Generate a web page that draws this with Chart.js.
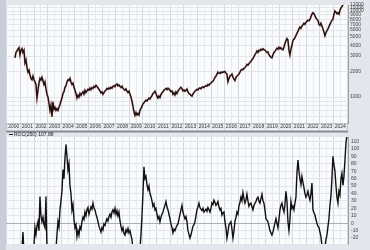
<!DOCTYPE html>
<html>
<head>
<meta charset="utf-8">
<script src="https://cdn.jsdelivr.net/npm/chart.js@4.4.1/dist/chart.umd.min.js"></script>
<style>
  html, body { margin: 0; padding: 0; background: #e3e6ed; }
  #wrap { position: relative; width: 370px; height: 250px; overflow: hidden; }
  canvas { position: absolute; left: 0; }
  #price { top: 0; }
  #roc { top: 131px; }
</style>
</head>
<body>
<div id="wrap">
  <canvas id="price" width="370" height="131"></canvas>
  <canvas id="roc" width="370" height="119"></canvas>
</div>
<script>
// sample dates: one sample about every 27 days, from mid 2000 to end of 2024
const firstDate = 2000.59;
const dateStep = 0.0735;

const priceValues = [
  2860, 3300, 3450, 3600, 3750, 3100, 3500, 3650, 3300, 3500,
  2500, 2700, 2200, 1950, 2050, 1800, 1650, 1590, 1750, 1600,
  1500, 1400, 980, 1200, 1450, 1650, 1580, 1700, 1550, 1400,
  1500, 1250, 1080, 1000, 850, 700, 800, 590, 880, 720,
  760, 700, 735, 700, 760, 820, 900, 975, 1100, 1150,
  1300, 1350, 1500, 1590, 1560, 1650, 1500, 1400, 1450, 1300,
  1200, 1100, 975, 1050, 1000, 1100, 1050, 1110, 1150, 1080,
  1200, 1130, 1180, 1230, 1200, 1270, 1220, 1290, 1260, 1330,
  1300, 1370, 1330, 1280, 1230, 1180, 1120, 1150, 1080, 1130,
  1170, 1210, 1260, 1230, 1280, 1250, 1300, 1270, 1330, 1360,
  1320, 1390, 1420, 1350, 1380, 1330, 1290, 1340, 1270, 1230,
  1200, 1240, 1170, 1130, 1170, 1080, 1000, 900, 780, 680,
  614, 660, 620, 646, 620, 700, 740, 780, 835, 860,
  890, 920, 900, 940, 970, 950, 1000, 1040, 1100, 1130,
  1170, 1100, 1020, 975, 1030, 990, 1070, 1120, 1160, 1200,
  1230, 1260, 1220, 1270, 1240, 1200, 1160, 1180, 1080, 1120,
  1060, 1150, 1100, 1170, 1220, 1260, 1300, 1250, 1180, 1210,
  1170, 1200, 1240, 1150, 1100, 1080, 1050, 1025, 1090, 1130,
  1170, 1200, 1230, 1210, 1260, 1280, 1250, 1300, 1320, 1290,
  1330, 1360, 1340, 1400, 1370, 1430, 1450, 1500, 1530, 1600,
  1700, 1750, 1850, 1950, 1900, 1880, 1950, 1920, 1970, 1940,
  1980, 1900, 1850, 1510, 1650, 1750, 1800, 1850, 1700, 1620,
  1560, 1700, 1750, 1800, 1850, 1950, 2050, 2100, 2080, 2150,
  2200, 2280, 2390, 2350, 2450, 2520, 2600, 2720, 2800, 2950,
  3100, 3250, 3430, 3300, 3500, 3450, 3600, 3520, 3650, 3550,
  3520, 3400, 3300, 3350, 3100, 3000, 2900, 2860, 3100, 3300,
  3400, 3550, 3700, 3600, 3800, 3650, 3750, 3600, 3550, 3800,
  4200, 4500, 4780, 4600, 3500, 3090, 3600, 4000, 4550, 4700,
  4900, 5200, 5500, 5800, 6200, 6500, 6300, 6700, 6900, 7200,
  7000, 7400, 7600, 7800, 7700, 8000, 8600, 9200, 9560, 9300,
  8800, 8300, 8000, 7800, 7000, 6800, 7200, 6680, 6200, 5700,
  5170, 5600, 5900, 6190, 6600, 7000, 7400, 7800, 8000, 9200,
  10000, 9700, 9300, 9560, 9200, 10200, 10800, 11300, 11750, 12300,
  12600, 13200, 13500
];

const rocValues = [
  -40, -40, -40, -40, -40, -40, -40, -35, -12, -40,
  -40, -40, -40, -40, -40, -40, -40, -40, -40, -30,
  -6, -15, -4, 2, -10, 36, 10, 2, 8, -2,
  -6, 36, -35, -40, -40, -40, -40, -40, -40, -40,
  -40, -35, -15, 2, -5, 18, 30, 43, 72, 60,
  88, 106, 90, 72, 80, 51, 40, 18, 25, 5,
  -6, -2, -18, -10, -16, -5, -8, 2, 8, 5,
  15, 10, 18, 21, 12, 17, 22, 19, 27, 20,
  18, 12, 8, 2, -4, -8, -12, -6, -9, -1,
  -3, 2, 6, 3, 9, 12, 8, 15, 18, 14,
  20, 12, 17, 10, 15, 3, -4, -10, -6, -14,
  -16, -9, -12, -7, -13, -10, -16, -22, -35, -40,
  -40, -40, -40, -40, -40, -35, -15, 10, 40, 76,
  60, 63, 52, 45, 50, 40, 36, 30, 23, 26,
  18, 20, 12, 6, 9, 2, 8, 12, 15, 20,
  24, 29, 22, 18, 12, 6, -1, -6, -13, -8,
  -10, -6, -3, -1, 5, 12, 18, 24, 15, 10,
  6, 9, 2, -10, -15, -20, -16, -10, -4, -2,
  2, 10, 18, 22, 27, 21, 19, 17, 20, 15,
  17, 19, 16, 21, 18, 15, 20, 27, 25, 31,
  28, 24, 26, 29, 22, 18, 20, 11, 14, 15,
  2, -6, -20, -12, -2, 0, 2, -8, -20, -10,
  2, 8, 15, 12, 23, 28, 35, 30, 41, 33,
  27, 31, 39, 30, 23, 26, 27, 22, 18, 24,
  27, 29, 33, 35, 30, 27, 33, 39, 30, 27,
  18, 6, 4, 2, -4, -10, -13, -16, -12, -6,
  0, 6, 0, -6, 5, 18, 24, 27, 20, 15,
  25, 43, 30, 2, -10, 5, 29, 20, 23, 18,
  27, 35, 67, 85, 70, 60, 52, 63, 55, 48,
  40, 35, 38, 43, 36, 31, 40, 54, 18, 14,
  11, 5, 0, -4, -6, -12, -18, -30, -40, -40,
  -32, -22, -16, -5, 6, 24, 36, 60, 90, 79,
  70, 51, 35, 27, 43, 38, 60, 67, 51, 63,
  84, 108, 118
];

const years = [2000, 2001, 2002, 2003, 2004, 2005, 2006, 2007, 2008, 2009, 2010, 2011, 2012,
  2013, 2014, 2015, 2016, 2017, 2018, 2019, 2020, 2021, 2022, 2023, 2024];
const priceTicks = [600, 700, 800, 900, 1000, 2000, 3000, 4000, 5000, 6000, 7000, 8000, 9000, 10000, 11000, 12000];
const priceTickLabels = ['', '', '', '', '1000', '2000', '3000', '4000', '5000', '6000', '7000', '8000', '9000', '10000', '11000', '12000'];
const rocTicks = [-20, -10, 0, 10, 20, 30, 40, 50, 60, 70, 80, 90, 100, 110];
const rocLegend = 'ROC(250) 107.88';

const dates = priceValues.map((_, i) => firstDate + i * dateStep);
// year lines at Jan 1, year labels in the middle of each year
const xTicks = [];
years.forEach(y => { xTicks.push(y, y + 0.5); });
xTicks.push(2025);

const font = { family: 'Liberation Sans', size: 5 };

const panelBack = {
  id: 'panelBack',
  beforeDraw(chart, args, opts) {
    const { ctx, chartArea: a, width, height } = chart;
    ctx.save();
    ctx.fillStyle = '#e3e6ed';
    ctx.fillRect(0, 0, width, height);
    ctx.fillStyle = '#c8cdd7';
    ctx.fillRect(0, 0, a.left, height);
    ctx.fillStyle = '#fafbfc';
    ctx.fillRect(a.left, a.top, a.width, a.bottom - a.top);
    if (opts.band) {
      ctx.fillStyle = '#bcc0c8';
      ctx.fillRect(a.left, a.bottom, a.width, height - a.bottom);
    }
    if (opts.topLine) {
      ctx.fillStyle = '#858a94';
      ctx.fillRect(a.left, 0, a.width, 1.5);
    }
    ctx.restore();
  },
  afterDraw(chart, args, opts) {
    if (!opts.legend) return;
    const { ctx, chartArea: a } = chart;
    ctx.save();
    ctx.fillStyle = '#222';
    ctx.fillRect(a.left + 3, 3, 4, 1);
    ctx.font = '5px "Liberation Sans"';
    ctx.textBaseline = 'middle';
    ctx.fillText(opts.legend, a.left + 8, 3.5);
    ctx.restore();
  }
};

const xScale = (showLabels) => ({
  type: 'linear',
  min: 1999.93,
  max: 2025.07,
  afterBuildTicks: s => { s.ticks = xTicks.map(v => ({ value: v })); },
  afterFit: s => { s.height = showLabels ? 8 : 0; },
  grid: {
    drawTicks: false,
    color: c => Number.isInteger(c.tick.value) ? '#d3d7df' : '#eaecf1',
    lineWidth: 1
  },
  border: { display: false },
  ticks: {
    display: showLabels,
    autoSkip: false,
    maxRotation: 0,
    padding: 1,
    font: font,
    color: '#333',
    showLabelBackdrop: c => !Number.isInteger(c.tick.value),
    backdropColor: '#eceef2',
    backdropPadding: { top: 0, bottom: 0, left: 1, right: 1 },
    callback: v => Number.isInteger(v) ? '' : String(Math.floor(v))
  }
});

new Chart(document.getElementById('price'), {
  type: 'line',
  data: {
    datasets: [{
      data: priceValues.map((v, i) => ({ x: dates[i], y: v })),
      borderColor: '#161010',
      borderWidth: 1.3,
      pointRadius: 0,
      tension: 0
    }, {
      data: priceValues.map((v, i) => ({ x: dates[i], y: v })),
      borderColor: 'rgba(190,50,45,0.45)',
      borderWidth: 2,
      pointRadius: 0,
      tension: 0
    }]
  },
  options: {
    responsive: false,
    animation: false,
    devicePixelRatio: 1,
    layout: { padding: { left: 6, right: 0, top: 0, bottom: 0 } },
    scales: {
      x: xScale(true),
      y: {
        type: 'logarithmic',
        position: 'right',
        min: 500,
        max: 11750,
        afterBuildTicks: s => { s.ticks = priceTicks.map(v => ({ value: v })); },
        afterFit: s => { s.width = 22; },
        grid: { drawTicks: false, color: '#e2e5ea' },
        border: { display: true, color: '#9a9fa8' },
        ticks: {
          autoSkip: false,
          padding: 2,
          font: font,
          color: '#444',
          callback: (v, i) => priceTickLabels[i]
        }
      }
    },
    plugins: {
      legend: { display: false },
      tooltip: { enabled: false },
      panelBack: { band: true }
    }
  },
  plugins: [panelBack]
});

new Chart(document.getElementById('roc'), {
  type: 'line',
  data: {
    datasets: [{
      data: rocValues.map((v, i) => ({ x: dates[i], y: v })),
      borderColor: '#111',
      borderWidth: 1.4,
      pointRadius: 0,
      tension: 0
    }]
  },
  options: {
    responsive: false,
    animation: false,
    devicePixelRatio: 1,
    layout: { padding: { left: 6, right: 0, top: 1, bottom: 0 } },
    scales: {
      x: xScale(false),
      y: {
        type: 'linear',
        position: 'right',
        min: -28,
        max: 116,
        afterBuildTicks: s => { s.ticks = rocTicks.map(v => ({ value: v })); },
        afterFit: s => { s.width = 22; },
        grid: {
          drawTicks: false,
          color: c => c.tick.value === 0 ? '#a9aeb7' : '#e2e5ea'
        },
        border: { display: true, color: '#9a9fa8' },
        ticks: {
          autoSkip: false,
          padding: 3,
          font: font,
          color: '#444'
        }
      }
    },
    plugins: {
      legend: { display: false },
      tooltip: { enabled: false },
      panelBack: { topLine: true, legend: rocLegend }
    }
  },
  plugins: [panelBack]
});
</script>
</body>
</html>
